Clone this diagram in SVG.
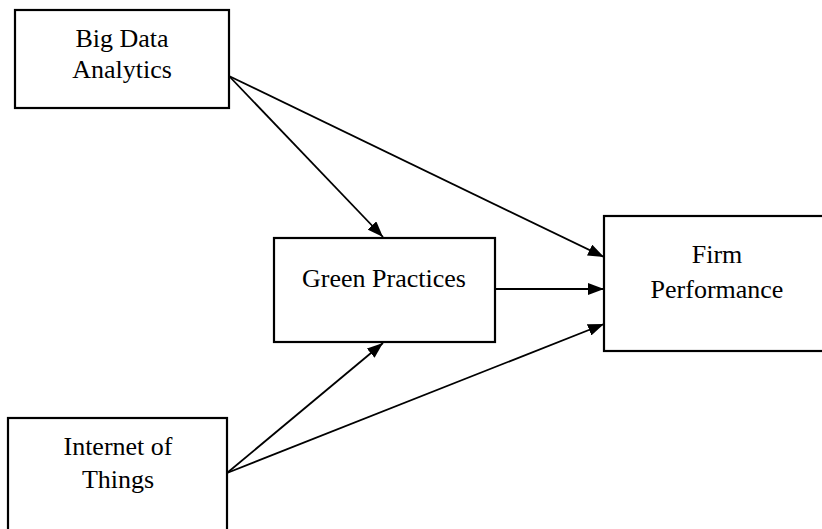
<svg xmlns="http://www.w3.org/2000/svg" width="822" height="529" viewBox="0 0 822 529">
<defs>
<marker id="ah" markerWidth="16" markerHeight="12" refX="16" refY="6" orient="auto" markerUnits="userSpaceOnUse">
<path d="M0,0 L16,6 L0,12 Z" fill="#000"/>
</marker>
<style>
.box{fill:#fff;stroke:#000;stroke-width:2.2}
.lbl{font-family:"Liberation Serif","Times New Roman",serif;font-size:26px;fill:#000;text-anchor:middle}
.c{stroke:#000;stroke-width:1.8;fill:none;marker-end:url(#ah)}
</style>
</defs>
<rect width="822" height="529" fill="#fff"/>
<g id="connectors">
<line class="c" x1="229" y1="76" x2="383" y2="237"/>
<line class="c" x1="229" y1="76" x2="604" y2="257"/>
<line class="c" x1="495" y1="289" x2="604" y2="289"/>
<line class="c" x1="227" y1="473" x2="383" y2="343"/>
<line class="c" x1="227" y1="473" x2="604" y2="324"/>
</g>
<g id="bigdata">
<rect class="box" x="15" y="10" width="214" height="98"/>
<text class="lbl" x="122" y="47">Big Data</text>
<text class="lbl" x="122" y="78">Analytics</text>
</g>
<g id="green">
<rect class="box" x="274" y="238" width="221" height="104"/>
<text class="lbl" x="384" y="287">Green Practices</text>
</g>
<g id="firm">
<rect class="box" x="604" y="216" width="230" height="135"/>
<text class="lbl" x="717" y="263">Firm</text>
<text class="lbl" x="717" y="298">Performance</text>
</g>
<g id="iot">
<rect class="box" x="8" y="418" width="219" height="120"/>
<text class="lbl" x="118" y="455">Internet of</text>
<text class="lbl" x="118" y="488">Things</text>
</g>
</svg>
